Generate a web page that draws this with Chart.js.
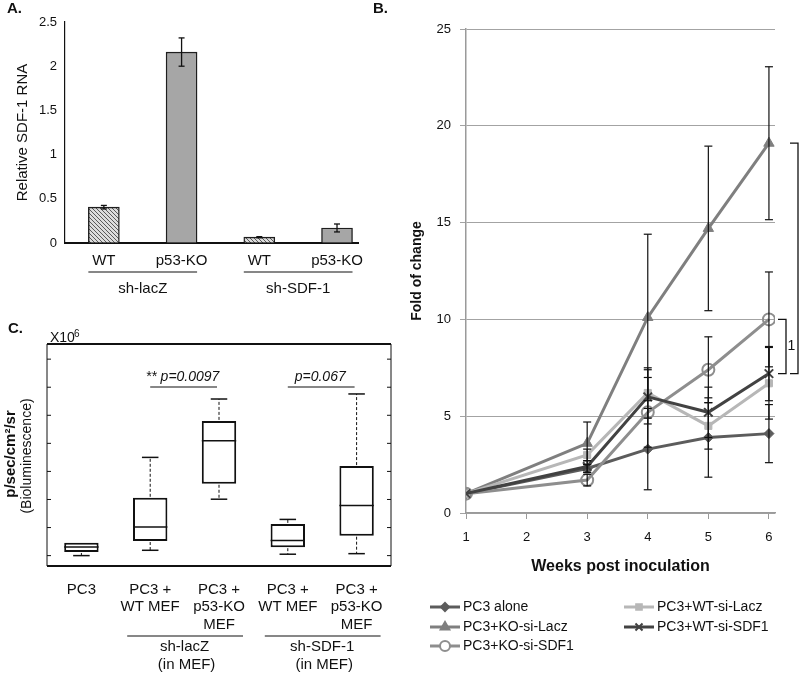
<!DOCTYPE html>
<html>
<head>
<meta charset="utf-8">
<script src="https://cdn.jsdelivr.net/npm/chart.js@4/dist/chart.umd.min.js"></script>
<style>
body{margin:0;background:#fff;width:800px;height:675px;position:relative;overflow:hidden}
canvas{position:absolute}
</style>
</head>
<body>
<canvas id="rnaChart" width="380" height="300" style="left:0;top:0"></canvas>
<canvas id="foldChart" width="428" height="675" style="left:372px;top:0"></canvas>
<canvas id="bioChart" width="400" height="375" style="left:0;top:300px"></canvas>
<script>

// =============================
// DATA
// =============================

// panel A
const rnaLabels = ["WT","p53-KO","WT","p53-KO"]
const rnaGroups = ["sh-lacZ","sh-SDF-1"]
const rnaValues = [0.405,2.16,0.066,0.17]
const rnaErrors = [0.02,0.16,0.006,0.045]

// panel B
const weekTicks = [1,2,3,4,5,6]
const weeks = [1,3,4,5,6]
const seriesNames = ["PC3 alone","PC3+KO-si-Lacz","PC3+KO-si-SDF1","PC3+WT-si-Lacz","PC3+WT-si-SDF1"]
const pc3Alone = [1,2.3,3.3,3.9,4.1]
const koSiLacz = [1,3.6,10.1,14.7,19.1]
const koSiSdf1 = [1,1.7,5.2,7.4,10]
const wtSiLacz = [1,3.0,6.2,4.5,6.7]
const wtSiSdf1 = [1,2.4,6.0,5.2,7.2]
const pc3AloneErr = [0,0.2,2.1,2.05,1.5]
const koSiLaczErr = [0,1.1,4.3,4.25,3.95]
const koSiSdf1Err = [0,0.3,1.8,1.7,2.45]
const wtSiLaczErr = [0,0.3,1.3,1.2,1.85]
const wtSiSdf1Err = [0,0.3,1.4,1.3,1.4]
const bracketLabel = "1"

// panel C
const boxLabels = [["PC3"],["PC3 +","WT MEF"],["PC3 +","p53-KO","MEF"],["PC3 +","WT MEF"],["PC3 +","p53-KO","MEF"]]
const boxMin = [0.0,0.19,2.01,0.05,0.07]
const boxQ1 = [0.13,0.52,2.56,0.30,0.71]
const boxMedian = [0.31,1.02,4.09,0.54,1.79]
const boxQ3 = [0.46,2.06,4.80,1.13,3.19]
const boxMax = [0.46,3.50,5.58,1.29,5.76]
const bioTicks = [0,1,2,3,4,5,6,7]
const bioGroups = [["sh-lacZ","(in MEF)"],["sh-SDF-1","(in MEF)"]]
const bioGroupPairs = [[1,2],[3,4]]
const pLabels = ["** p=0.0097","p=0.067"]


// =============================
// STYLE
// =============================

const FONT = '"Liberation Sans", Arial, sans-serif'
Chart.defaults.font.family = FONT
Chart.defaults.color = "#111"

const seriesValues = [pc3Alone,koSiLacz,koSiSdf1,wtSiLacz,wtSiSdf1]
const seriesErrors = [pc3AloneErr,koSiLaczErr,koSiSdf1Err,wtSiLaczErr,wtSiSdf1Err]
const seriesColors = ["#5c5c5c","#7f7f7f","#8e8e8e","#b7b7b7","#424242"]
const seriesPoints = ["rectRot","triangle","circle","rect","crossRot"]
const seriesRadius = [5,6,6,5,6]

function line(ctx,x1,y1,x2,y2){
ctx.beginPath()
ctx.moveTo(x1,y1)
ctx.lineTo(x2,y2)
ctx.stroke()
}

function hatch(){
const c = document.createElement("canvas")
c.width = 4
c.height = 4
const g = c.getContext("2d")
g.fillStyle = "#dcdcdc"
g.fillRect(0,0,4,4)
g.strokeStyle = "#5a5a5a"
g.lineWidth = 1
g.beginPath()
g.moveTo(-1,-1); g.lineTo(5,5)
g.moveTo(-1,3); g.lineTo(1,5)
g.moveTo(3,-1); g.lineTo(5,1)
g.stroke()
return g.createPattern(c,"repeat")
}


// =============================
// PANEL A
// =============================

const rnaExtras = {
id:"rnaExtras",
afterDatasetsDraw(chart){
const ctx = chart.ctx
const y = chart.scales.y
const bars = chart.getDatasetMeta(0).data
ctx.save()
ctx.strokeStyle = "#111"
ctx.lineWidth = 1.3
bars.forEach((b,i)=>{
const t = y.getPixelForValue(rnaValues[i]+rnaErrors[i])
const d = y.getPixelForValue(rnaValues[i]-rnaErrors[i])
line(ctx,b.x,t,b.x,d)
line(ctx,b.x-3,t,b.x+3,t)
line(ctx,b.x-3,d,b.x+3,d)
})
// group labels
ctx.fillStyle = "#111"
ctx.font = "15px "+FONT
ctx.textAlign = "center"
ctx.textBaseline = "middle"
rnaGroups.forEach((g,k)=>{
const a = bars[k*2], b = bars[k*2+1]
ctx.lineWidth = 1.2
line(ctx,a.x-a.width/2,272,b.x+b.width/2,272)
ctx.fillText(g,(a.x+b.x)/2,289)
})
ctx.font = "bold 15px "+FONT
ctx.textAlign = "left"
ctx.fillText("A.",7,9)
ctx.restore()
}
}

new Chart(document.getElementById("rnaChart"),{
type:"bar",
data:{
datasets:[{
data:rnaValues.map((v,i)=>({x:i+1,y:v})),
backgroundColor:rnaLabels.map(l=>l==="WT" ? hatch() : "#a6a6a6"),
borderColor:"#1e1e1e",
borderWidth:1.4,
barThickness:31
}]
},
options:{
responsive:false,
animation:false,
layout:{padding:{left:0,top:22,right:22,bottom:0}},
plugins:{legend:{display:false},tooltip:{enabled:false}},
scales:{
x:{
type:"linear",
min:0.5,
max:4.27,
offset:false,
afterBuildTicks(s){ s.ticks = rnaLabels.map((l,i)=>({value:i+1})) },
afterFit(s){ s.height = 57 },
grid:{display:false,offset:false},
border:{color:"#111",width:2},
ticks:{padding:1,font:{size:15},callback:v=>rnaLabels[Math.round(v)-1]}
},
y:{
min:0,
max:2.5,
afterFit(s){ s.width = 65 },
grid:{drawOnChartArea:false,drawTicks:false},
border:{color:"#111",width:1.2},
ticks:{stepSize:0.5,padding:8,font:{size:13},callback:v=>String(v)},
title:{display:true,text:"Relative SDF-1 RNA",font:{size:15},padding:{top:14,bottom:0}}
}
}
},
plugins:[rnaExtras]
})


// =============================
// PANEL B
// =============================

const foldExtras = {
id:"foldExtras",
afterDatasetsDraw(chart){
const ctx = chart.ctx
const x = chart.scales.x
const y = chart.scales.y
ctx.save()
ctx.strokeStyle = "#111"
ctx.lineWidth = 1.2
seriesValues.forEach((vals,s)=>{
vals.forEach((v,j)=>{
const e = seriesErrors[s][j]
if(!e) return
const px = x.getPixelForValue(weeks[j])
const t = y.getPixelForValue(v+e)
const d = y.getPixelForValue(v-e)
line(ctx,px,t,px,d)
line(ctx,px-4,t,px+4,t)
line(ctx,px-4,d,px+4,d)
})
})
// significance brackets at last week
const last = weeks.length-1
const yTop = y.getPixelForValue(koSiLacz[last])
const yMid = y.getPixelForValue(koSiSdf1[last])
const yLow = y.getPixelForValue(wtSiSdf1[last])
ctx.lineWidth = 1.3
ctx.beginPath()
ctx.moveTo(418,yTop); ctx.lineTo(426,yTop); ctx.lineTo(426,yLow); ctx.lineTo(418,yLow)
ctx.stroke()
ctx.beginPath()
ctx.moveTo(406,yMid); ctx.lineTo(414,yMid); ctx.lineTo(414,yLow); ctx.lineTo(406,yLow)
ctx.stroke()
ctx.fillStyle = "#111"
ctx.font = "14px "+FONT
ctx.textAlign = "center"
ctx.textBaseline = "middle"
ctx.fillText(bracketLabel,419.5,(yMid+yLow)/2)
ctx.restore()
},
afterDraw(chart){
const ctx = chart.ctx
ctx.save()
ctx.fillStyle = "#111"
ctx.font = "bold 15px "+FONT
ctx.textBaseline = "middle"
ctx.fillText("B.",1,9)
// legend, two columns
const cols = [[0,1,2],[3,4]]
const colX = [58,252]
const rowY = [607,627,646]
ctx.font = "14px "+FONT
cols.forEach((col,c)=>{
col.forEach((s,r)=>{
const x0 = colX[c], yy = rowY[r]
ctx.strokeStyle = seriesColors[s]
ctx.lineWidth = 3
line(ctx,x0,yy,x0+30,yy)
ctx.fillStyle = s===2 ? "#fff" : seriesColors[s]
ctx.lineWidth = 2
Chart.helpers.drawPoint(ctx,{pointStyle:seriesPoints[s],radius:seriesRadius[s]-1,borderWidth:s===2||s===4 ? 2 : 1,rotation:0},x0+15,yy)
ctx.fillStyle = "#111"
ctx.fillText(seriesNames[s],x0+33,yy)
})
})
ctx.restore()
}
}

new Chart(document.getElementById("foldChart"),{
type:"line",
data:{
datasets:seriesNames.map((name,s)=>({
label:name,
data:weeks.map((w,j)=>({x:w,y:seriesValues[s][j]})),
borderColor:seriesColors[s],
backgroundColor:seriesColors[s],
pointBackgroundColor:s===2 ? "rgba(255,255,255,0)" : seriesColors[s],
pointBorderColor:seriesColors[s],
pointStyle:seriesPoints[s],
pointRadius:seriesRadius[s],
pointBorderWidth:s===2||s===4 ? 2 : 1,
borderWidth:3,
tension:0,
order:seriesNames.length-s
}))
},
options:{
responsive:false,
animation:false,
layout:{padding:{left:0,top:29,right:25,bottom:99}},
plugins:{legend:{display:false},tooltip:{enabled:false}},
scales:{
x:{
type:"linear",
min:1,
max:6.1,
afterBuildTicks(s){ s.ticks = weekTicks.map(v=>({value:v})) },
afterFit(s){ s.height = 63 },
grid:{drawOnChartArea:false,color:"#9a9a9a",tickLength:6},
border:{color:"#9a9a9a",width:1.5},
ticks:{padding:11,font:{size:13}},
title:{display:true,text:"Weeks post inoculation",font:{size:16,weight:"bold"},padding:0}
},
y:{
min:0,
max:25,
afterFit(s){ s.width = 94 },
grid:{color:"#a3a3a3",tickLength:6},
border:{color:"#9a9a9a",width:1.5},
ticks:{stepSize:5,padding:9,font:{size:13}},
title:{display:true,text:"Fold of change",font:{size:14,weight:"bold"},padding:{top:37,bottom:0}}
}
}
},
plugins:[foldExtras]
})


// =============================
// PANEL C
// =============================

const bioExtras = {
id:"bioExtras",
afterDatasetsDraw(chart){
const ctx = chart.ctx
const {left,right,top,bottom} = chart.chartArea
const x = chart.scales.x
const y = chart.scales.y
const bars = chart.getDatasetMeta(0).data
ctx.save()
ctx.strokeStyle = "#111"
// frame
ctx.lineWidth = 2
line(ctx,left,top,right,top)
line(ctx,left,bottom,right,bottom)
ctx.lineWidth = 1
line(ctx,left,top,left,bottom)
line(ctx,right,top,right,bottom)
bioTicks.forEach(t=>{
const py = y.getPixelForValue(t)
line(ctx,left,py,left+4,py)
line(ctx,right-4,py,right,py)
})
// medians, whiskers, caps
bars.forEach((b,i)=>{
const half = b.width/2
const cap = b.width*0.24
const q1 = y.getPixelForValue(boxQ1[i])
const q3 = y.getPixelForValue(boxQ3[i])
const lo = y.getPixelForValue(boxMin[i])
const hi = y.getPixelForValue(boxMax[i])
ctx.lineWidth = 1.5
line(ctx,b.x-half,y.getPixelForValue(boxMedian[i]),b.x+half,y.getPixelForValue(boxMedian[i]))
line(ctx,b.x-cap,lo,b.x+cap,lo)
if(hi<q3-1) line(ctx,b.x-cap,hi,b.x+cap,hi)
ctx.lineWidth = 1
ctx.setLineDash([3,2])
if(lo>q1+1) line(ctx,b.x,q1+1,b.x,lo)
if(hi<q3-1) line(ctx,b.x,q3-1,b.x,hi)
ctx.setLineDash([])
})
// p-values
ctx.fillStyle = "#111"
ctx.textAlign = "center"
ctx.textBaseline = "middle"
pLabels.forEach((p,k)=>{
const a = x.getPixelForValue(bioGroupPairs[k][0])
const b = x.getPixelForValue(bioGroupPairs[k][1])
ctx.lineWidth = 1.2
line(ctx,a,87,b-2,87)
ctx.font = "italic 14px "+FONT
ctx.fillText(p,(a+b)/2-2,77)
})
// group labels
ctx.font = "15px "+FONT
bioGroups.forEach((g,k)=>{
const a = x.getPixelForValue(bioGroupPairs[k][0])
const b = x.getPixelForValue(bioGroupPairs[k][1])
ctx.lineWidth = 1.2
line(ctx,a-23,336,b+24,336)
ctx.fillText(g[0],(a+b)/2,347)
ctx.fillText(g[1],(a+b)/2+2,365)
})
// axis title and multiplier
ctx.save()
ctx.translate(11,154)
ctx.rotate(-Math.PI/2)
ctx.font = "bold 15px "+FONT
ctx.fillText("p/sec/cm\u00b2/sr",0,0)
ctx.restore()
ctx.save()
ctx.translate(27,156)
ctx.rotate(-Math.PI/2)
ctx.font = "14px "+FONT
ctx.fillText("(Bioluminescence)",0,0)
ctx.restore()
ctx.textAlign = "left"
ctx.font = "14px "+FONT
ctx.fillText("X10",50,38)
ctx.font = "10px "+FONT
ctx.fillText("6",74,34)
ctx.font = "bold 15px "+FONT
ctx.fillText("C.",8,29)
ctx.restore()
}
}

new Chart(document.getElementById("bioChart"),{
type:"bar",
data:{
labels:boxLabels,
datasets:[{
data:boxLabels.map((l,i)=>[boxQ1[i],boxQ3[i]]),
backgroundColor:"#fff",
borderColor:"#111",
borderWidth:2,
borderSkipped:false,
categoryPercentage:1,
barPercentage:0.5
}]
},
options:{
responsive:false,
animation:false,
layout:{padding:{left:47,top:44,right:9,bottom:0}},
plugins:{legend:{display:false},tooltip:{enabled:false}},
scales:{
x:{
afterFit(s){ s.height = 109 },
grid:{display:false},
border:{display:false},
ticks:{padding:7,font:{size:15,lineHeight:1.17},maxRotation:0,autoSkip:false}
},
y:{
display:false,
min:-0.37,
max:7.54
}
}
},
plugins:[bioExtras]
})

</script>
</body>
</html>
